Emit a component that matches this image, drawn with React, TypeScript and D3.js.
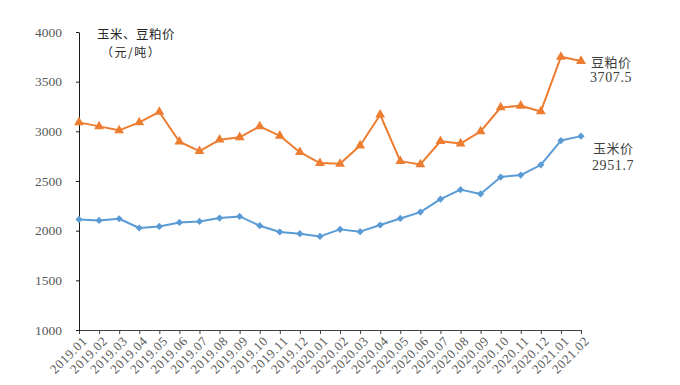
import * as d3 from 'd3'
import { FC, useEffect, useRef } from 'react'

const months = [
  '2019.01', '2019.02', '2019.03', '2019.04', '2019.05', '2019.06', '2019.07', '2019.08', '2019.09',
  '2019.10', '2019.11', '2019.12', '2020.01', '2020.02', '2020.03', '2020.04', '2020.05', '2020.06',
  '2020.07', '2020.08', '2020.09', '2020.10', '2020.11', '2020.12', '2021.01', '2021.02',
]
// 豆粕价
const soymeal = [
  3090, 3050, 3010, 3090, 3195, 2895, 2800, 2915, 2940, 3050, 2955, 2790, 2680,
  2673, 2857, 3167, 2700, 2667, 2900, 2877, 3000, 3240, 3257, 3200, 3750, 3707.5,
]
// 玉米价
const corn = [
  2113, 2103, 2120, 2027, 2043, 2083, 2093, 2127, 2143, 2050, 1987, 1970, 1942,
  2013, 1990, 2057, 2123, 2187, 2317, 2413, 2370, 2540, 2560, 2663, 2907, 2951.7,
]
const yTicks = [1000, 1500, 2000, 2500, 3000, 3500, 4000]

const W = 680
const H = 385
const serif = '"Liberation Serif", "Noto Sans CJK SC", serif'
const cjk = '"Noto Sans CJK SC", serif'

const App: FC = () => {
  const ref = useRef<SVGSVGElement>(null)
  useEffect(() => {
    draw()
  }, [])
  const draw = () => {
    const svg = d3.select(ref.current)
    svg.selectAll('*').remove()
    const padding = { top: 32, right: 99, bottom: 55, left: 79 }
    const xScale = d3.scalePoint().domain(months).range([padding.left, W - padding.right])
    const yScale = d3.scaleLinear().domain([1000, 4000]).range([H - padding.bottom, padding.top])

    // 坐标轴
    const xAxis = d3.axisBottom(xScale).tickSize(4).tickSizeOuter(0)
    const gx = svg.append('g').attr('transform', `translate(0,${H - padding.bottom})`).call(xAxis)
    gx.select('.domain').attr('stroke', '#404040')
    gx.selectAll('.tick line').attr('stroke', '#404040')
    gx.selectAll('.tick text')
      .attr('font-family', serif).attr('font-size', 13).attr('fill', '#595959')
      .attr('letter-spacing', 0.6)
      .attr('text-anchor', 'end').attr('x', 0).attr('y', 0).attr('dy', '0.72em')
      .attr('transform', 'translate(2,5) rotate(-45)')

    const yAxis = d3.axisLeft(yScale).tickValues(yTicks).tickFormat(d3.format('d'))
      .tickSize(3).tickSizeOuter(0).tickPadding(14)
    const gy = svg.append('g').attr('transform', `translate(${padding.left},0)`).call(yAxis)
    gy.select('.domain').attr('stroke', '#1a1a1a')
    gy.selectAll('.tick line').attr('stroke', '#1a1a1a')
    gy.selectAll('.tick text').attr('font-family', serif).attr('font-size', 13.5).attr('fill', '#595959')

    const series = [
      { name: '豆粕价', data: soymeal, color: '#ED7D31', symbol: d3.symbolTriangle, size: 42, rot: 0, last: '3707.5' },
      { name: '玉米价', data: corn, color: '#5B9BD5', symbol: d3.symbolSquare, size: 26, rot: 45, last: '2951.7' },
    ]
    series.forEach(s => {
      const line = d3.line<number>().x((d, i) => xScale(months[i]) as number).y(d => yScale(d))
      svg.append('path').datum(s.data).attr('d', line).attr('fill', 'none')
        .attr('stroke', s.color).attr('stroke-width', 2).attr('stroke-linejoin', 'round')
      svg.selectAll(null).data(s.data).enter().append('path')
        .attr('d', d3.symbol().type(s.symbol).size(s.size))
        .attr('transform', (d, i) => `translate(${xScale(months[i])},${yScale(d)}) rotate(${s.rot})`)
        .attr('fill', s.color)
    })

    // 末端标注
    const lx = (xScale(months[months.length - 1]) as number) + 10
    svg.append('text').attr('x', lx).attr('y', 67).attr('font-family', cjk).attr('font-size', 13)
      .attr('fill', '#404040').attr('letter-spacing', 0.5).text('豆粕价')
    svg.append('text').attr('x', lx - 1).attr('y', 82).attr('font-family', serif).attr('font-size', 14)
      .attr('fill', '#404040').attr('letter-spacing', 0.6).text(series[0].last)
    svg.append('text').attr('x', lx + 2).attr('y', 153).attr('font-family', cjk).attr('font-size', 13)
      .attr('fill', '#404040').attr('letter-spacing', 0.5).text('玉米价')
    svg.append('text').attr('x', lx + 1).attr('y', 170).attr('font-family', serif).attr('font-size', 14)
      .attr('fill', '#404040').attr('letter-spacing', 0.6).text(series[1].last)

    // 单位
    svg.append('text').attr('x', 97).attr('y', 39).attr('font-family', cjk).attr('font-size', 12.5)
      .attr('fill', '#262626').attr('letter-spacing', 0.5).text('玉米、豆粕价')
    svg.append('text').attr('x', 101).attr('y', 57).attr('font-family', cjk).attr('font-size', 12)
      .attr('fill', '#262626').attr('letter-spacing', 1.5).text('（元/吨）')
  }
  return (
    <svg ref={ref} width={W} height={H} style={{ position: 'absolute', left: 0, top: 0, background: '#fff' }} />
  )
}
export default App
